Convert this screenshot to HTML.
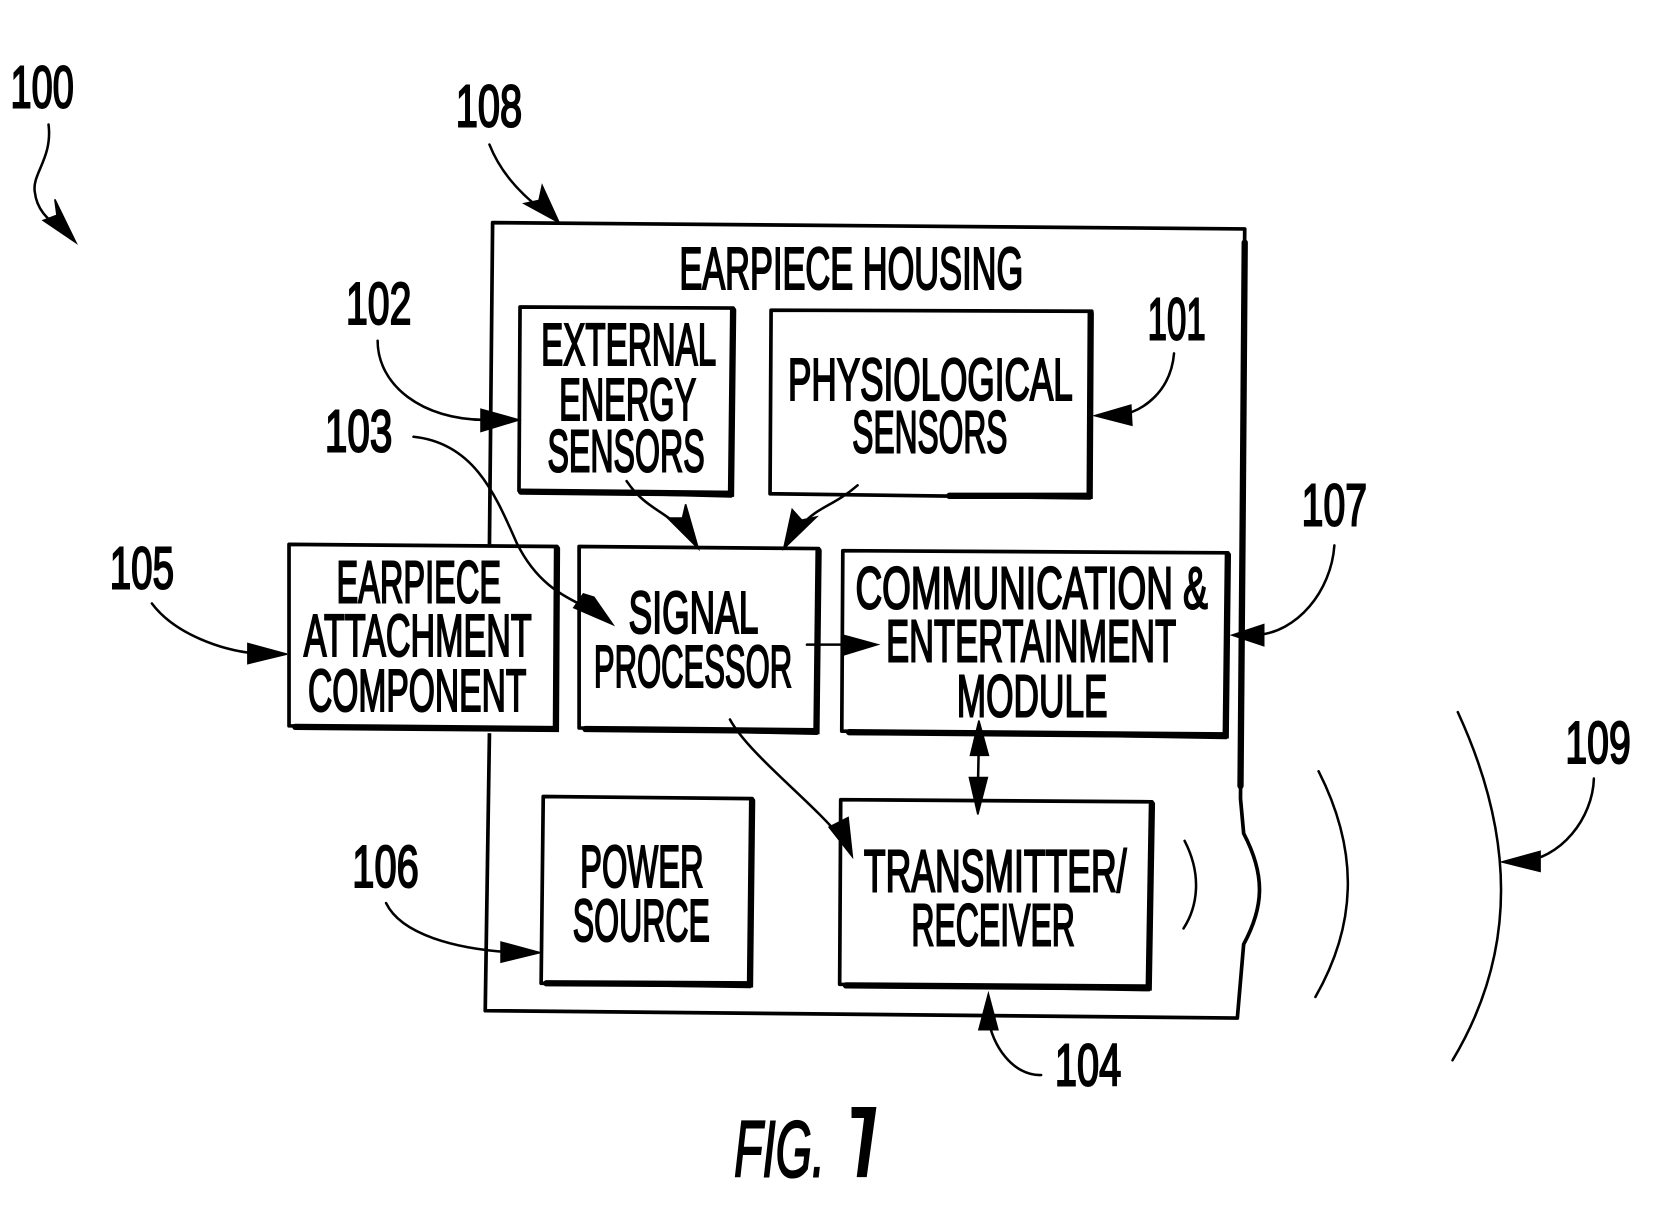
<!DOCTYPE html>
<html><head><meta charset="utf-8"><style>
html,body{margin:0;padding:0;background:#fff}
svg{display:block}
text{font-family:"Liberation Sans Narrow","Liberation Sans",sans-serif;font-size:56px;fill:#000;stroke:#000;stroke-width:2px}
.l{fill:none;stroke:#000;stroke-width:2.4;stroke-linecap:round;stroke-linejoin:round}
.b{fill:none;stroke:#000;stroke-width:3.5;stroke-linejoin:round}
.t{fill:none;stroke:#000;stroke-width:6;stroke-linecap:round}
.h{fill:#000;stroke:#000;stroke-width:1.5}
</style></head><body>
<svg width="1654" height="1228" viewBox="0 0 1568 1164" xmlns="http://www.w3.org/2000/svg" preserveAspectRatio="none">
<rect width="1568" height="1164" fill="#fff"/>

<!-- housing -->
<path class="b" d="M464 516 L467 211 L1180 217 L1178 500 L1176 757 L1179 790 C1200 830 1198 860 1179 895 L1173 965 L460 958 L464 695"/>
<path class="t" d="M1180 230 L1178 500 L1176 745"/>

<!-- boxes -->
<path class="b" d="M493 291 L695 292 L693 470 L492 465 Z"/><path class="t" d="M695 294 L693 468 L494 466"/>
<path class="b" d="M731 294 L1035 295 L1033 472 L730 468 Z"/><path class="t" d="M1034 297 L1033 470 L900 470"/>
<path class="b" d="M274 516 L528 518 L527 692 L274 688 Z"/><path class="t" d="M528 520 L527 691 L280 689"/>
<path class="b" d="M549 518 L776 520 L774 695 L549 690 Z"/><path class="t" d="M776 522 L774 693 L555 691"/>
<path class="b" d="M799 522 L1164 524 L1162 699 L798 693 Z"/><path class="t" d="M1164 526 L1162 697 L805 694"/>
<path class="b" d="M515 755 L713 757 L711 935 L513 932 Z"/><path class="t" d="M713 759 L711 933 L518 932"/>
<path class="b" d="M797 758 L1092 760 L1089 938 L796 933 Z"/><path class="t" d="M1092 762 L1089 936 L802 934"/>

<!-- box text -->
<text x="644" y="274" textLength="326" lengthAdjust="spacingAndGlyphs">EARPIECE HOUSING</text>
<text x="513" y="346" textLength="166" lengthAdjust="spacingAndGlyphs">EXTERNAL</text>
<text x="530" y="398" textLength="130" lengthAdjust="spacingAndGlyphs">ENERGY</text>
<text x="519" y="447" textLength="149" lengthAdjust="spacingAndGlyphs">SENSORS</text>
<text x="747" y="379" textLength="270" lengthAdjust="spacingAndGlyphs">PHYSIOLOGICAL</text>
<text x="808" y="429" textLength="147" lengthAdjust="spacingAndGlyphs">SENSORS</text>
<text x="319" y="571" textLength="156" lengthAdjust="spacingAndGlyphs">EARPIECE</text>
<text x="288" y="622" textLength="216" lengthAdjust="spacingAndGlyphs">ATTACHMENT</text>
<text x="292" y="674" textLength="207" lengthAdjust="spacingAndGlyphs">COMPONENT</text>
<text x="596" y="600" textLength="123" lengthAdjust="spacingAndGlyphs">SIGNAL</text>
<text x="563" y="651" textLength="188" lengthAdjust="spacingAndGlyphs">PROCESSOR</text>
<text x="811" y="577" textLength="334" lengthAdjust="spacingAndGlyphs">COMMUNICATION &amp;</text>
<text x="840" y="627" textLength="275" lengthAdjust="spacingAndGlyphs">ENTERTAINMENT</text>
<text x="907" y="679" textLength="143" lengthAdjust="spacingAndGlyphs">MODULE</text>
<text x="550" y="841" textLength="117" lengthAdjust="spacingAndGlyphs">POWER</text>
<text x="543" y="892" textLength="130" lengthAdjust="spacingAndGlyphs">SOURCE</text>
<text x="819" y="845" textLength="249" lengthAdjust="spacingAndGlyphs">TRANSMITTER/</text>
<text x="864" y="896" textLength="155" lengthAdjust="spacingAndGlyphs">RECEIVER</text>

<!-- reference numbers -->
<text x="10" y="102" textLength="60" lengthAdjust="spacingAndGlyphs">100</text>
<text x="432" y="120" textLength="63" lengthAdjust="spacingAndGlyphs">108</text>
<text x="328" y="307" textLength="62" lengthAdjust="spacingAndGlyphs">102</text>
<text x="308" y="428" textLength="64" lengthAdjust="spacingAndGlyphs">103</text>
<text x="1088" y="322" textLength="55" lengthAdjust="spacingAndGlyphs">101</text>
<text x="104" y="558" textLength="61" lengthAdjust="spacingAndGlyphs">105</text>
<text x="1234" y="498" textLength="62" lengthAdjust="spacingAndGlyphs">107</text>
<text x="334" y="841" textLength="63" lengthAdjust="spacingAndGlyphs">106</text>
<text x="1000" y="1029" textLength="63" lengthAdjust="spacingAndGlyphs">104</text>
<text x="1484" y="723" textLength="62" lengthAdjust="spacingAndGlyphs">109</text>

<!-- figure label -->
<text x="696" y="1115" textLength="86" lengthAdjust="spacingAndGlyphs" font-style="italic" style="font-size:76px">FIG.</text>
<path class="h" d="M808 1050 L830 1050 L821 1115 L813 1115 L820 1059 L808 1059 Z"/>

<!-- connectors -->
<path class="l" d="M46 118 C50 150 30 165 33 182 C35 200 46 208 60 220"/>
<polygon class="h" points="72,230 41,209 54,204 52,189"/>
<path class="l" d="M464 137 C475 165 495 185 515 200"/>
<polygon class="h" points="530,211 497,193 511,190 514,176"/>
<path class="l" d="M358 323 C358 365 400 398 460 398"/>
<polygon class="h" points="492,398 456,388 456,409"/>
<path class="l" d="M392 414 C450 420 470 470 490 515 C510 555 535 565 560 578"/>
<polygon class="h" points="581,592 544,576 553,563 563,566"/>
<path class="l" d="M594 456 C610 480 630 485 645 500"/>
<polygon class="h" points="662,520 633,491 647,491 650,478"/>
<path class="l" d="M813 460 C790 480 775 480 760 498"/>
<polygon class="h" points="743,520 751,483 760,493 774,490"/>
<path class="l" d="M1113 335 C1110 370 1085 390 1060 394"/>
<polygon class="h" points="1038,394 1072,384 1073,403"/>
<path class="l" d="M144 572 C165 600 210 618 250 620"/>
<polygon class="h" points="272,620 235,610 235,629"/>
<path class="l" d="M366 856 C380 885 430 900 490 903"/>
<polygon class="h" points="512,903 475,893 475,912"/>
<path class="l" d="M1265 517 C1262 560 1230 600 1190 602"/>
<polygon class="h" points="1168,602 1198,592 1198,612"/>
<path class="l" d="M987 1019 C960 1020 940 990 937 965"/>
<polygon class="h" points="937,942 928,976 946,976"/>
<path class="l" d="M1511 738 C1510 775 1480 815 1440 817"/>
<polygon class="h" points="1424,817 1460,807 1460,826"/>
<path class="l" d="M765 611 L805 611"/>
<polygon class="h" points="832,611 799,602 799,621"/>
<path class="l" d="M928 700 L927 750"/>
<polygon class="h" points="928,683 920,716 937,716"/>
<polygon class="h" points="927,772 919,737 936,737"/>
<path class="l" d="M692 682 C710 715 770 760 798 795"/>
<polygon class="h" points="808,812 786,784 804,775"/>

<!-- waves -->
<path class="l" d="M1123 797 C1140 830 1135 860 1122 880"/>
<path class="l" d="M1250 731 C1285 800 1290 870 1247 945"/>
<path class="l" d="M1382 675 C1435 790 1440 900 1377 1005"/>
</svg>
</body></html>
